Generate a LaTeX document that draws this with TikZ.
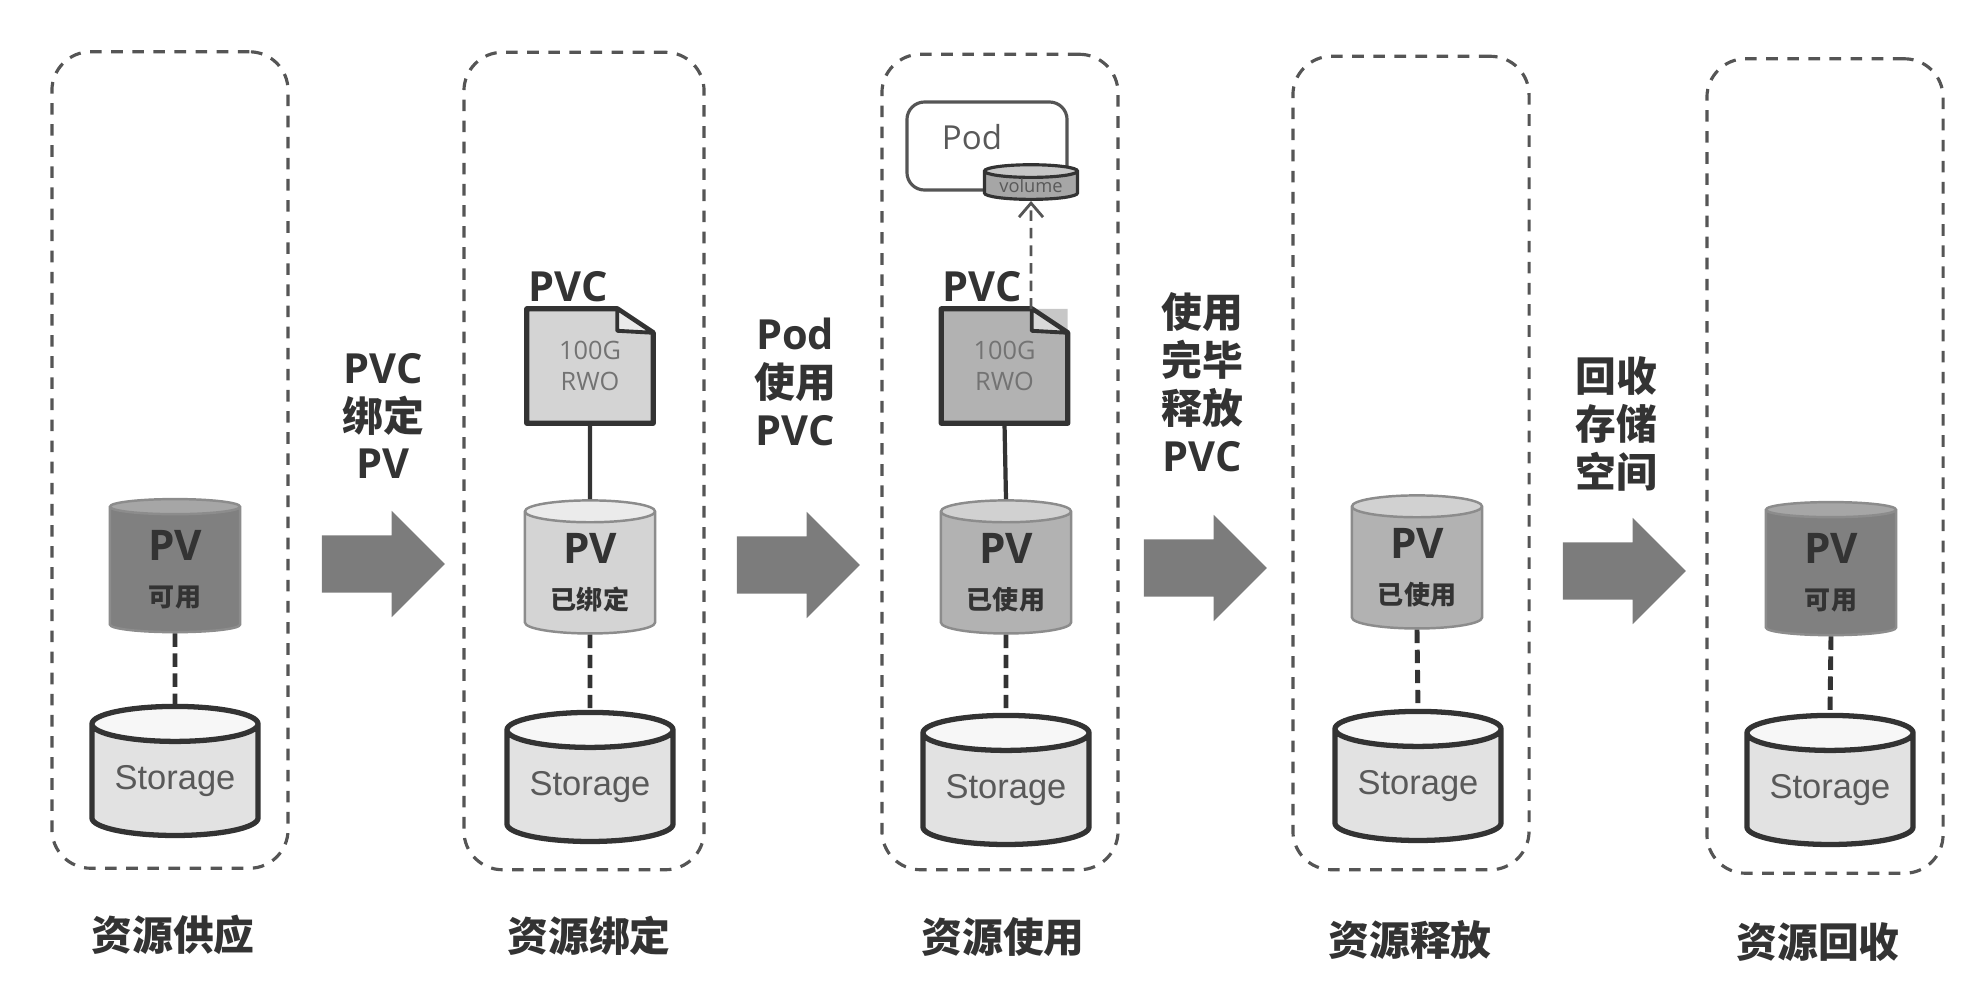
\documentclass[tikz,border=0pt]{standalone}
\usepackage{fontspec}
\usepackage{xcolor}
\setmainfont{Open Sans}
\newfontfamily\cjk{Noto Sans CJK SC}
\newfontfamily\arialish{Liberation Sans}
\usetikzlibrary{positioning,arrows.meta,shapes.geometric,shapes.arrows,backgrounds}
\definecolor{SKInk}{HTML}{333333}
\definecolor{SKEdge}{HTML}{555555}
\definecolor{SKArrow}{HTML}{7C7C7C}
\definecolor{SKFree}{HTML}{808080}
\definecolor{SKBound}{HTML}{D4D4D4}
\definecolor{SKUsed}{HTML}{B2B2B2}
\definecolor{SKStore}{HTML}{E2E2E2}
\tikzset{
  stagebox/.style={
    rectangle,
    rounded corners=11pt,
    draw=SKEdge,
    dash pattern=on 3.3pt off 2.7pt,
    line width=0.9pt,
    minimum width=2.36cm,
    inner sep=0pt
  },
  pvcyl/.style={
    cylinder,
    shape border rotate=90,
    shape aspect=0.28,
    cylinder uses custom fill,
    draw=black!45,
    line width=0.7pt,
    text=SKInk,
    align=center,
    inner sep=0pt,
    minimum width=1.30cm,
    minimum height=1.33cm,
    font=\fontsize{12}{13}\selectfont\bfseries
  },
  pvfree/.style={pvcyl,cylinder body fill=SKFree,cylinder end fill=black!35},
  pvbound/.style={pvcyl,cylinder body fill=SKBound,cylinder end fill=black!8},
  pvused/.style={pvcyl,cylinder body fill=SKUsed,cylinder end fill=black!18},
  storecyl/.style={
    cylinder,
    shape border rotate=90,
    shape aspect=0.29,
    cylinder uses custom fill,
    cylinder body fill=SKStore,
    cylinder end fill=black!3,
    draw=SKInk,
    line width=1.5pt,
    text=black!65,
    inner sep=0pt,
    minimum width=1.66cm,
    minimum height=1.29cm,
    font=\arialish\fontsize{9.8}{11}\selectfont
  },
  docsheet/.style={
    rectangle,
    inner sep=0pt,
    align=center,
    text=black!55,
    minimum width=1.25cm,
    minimum height=1.13cm,
    font=\fontsize{7.2}{8.8}\selectfont
  },
  docline/.style={draw=SKInk,line width=1.5pt,line join=round},
  stepname/.style={text=SKInk,font=\cjk\fontsize{11.6}{13}\selectfont\bfseries},
  movelabel/.style={text=SKInk,align=center,inner sep=0pt,font=\fontsize{11.8}{13.6}\selectfont\bfseries},
  pvclabel/.style={text=SKInk,inner sep=0pt,font=\fontsize{11.8}{13}\selectfont\bfseries},
  movearrow/.style={
    single arrow,
    fill=SKArrow,
    inner xsep=0pt,
    inner ysep=0.28cm,
    minimum height=1.23cm,
    single arrow head extend=0.245cm
  },
  solidlink/.style={draw=SKInk,line width=1.2pt},
  dashlink/.style={draw=SKInk,line width=1.4pt,dash pattern=on 3.8pt off 1.9pt},
  mountlink/.style={draw=SKEdge,line width=0.8pt,dash pattern=on 3pt off 2pt,-{Straight Barb[length=1.4mm,width=2.4mm]}},
}
\newcommand{\zh}[2]{{\cjk\fontsize{#1}{#1}\selectfont #2}}

\begin{document}
\begin{tikzpicture}[x=0.01cm,y=-0.01cm]
  \useasboundingbox (0,0) rectangle (1978,996);

  % stages
  \node[stagebox,minimum height=8.16cm] (panelA) at (170,460) {};
  \node[stagebox,minimum height=8.17cm,minimum width=2.40cm] (panelB) at (584,461) {};
  \node[stagebox,minimum height=8.15cm] (panelC) at (1000,462) {};
  \node[stagebox,minimum height=8.13cm] (panelD) at (1411,463) {};
  \node[stagebox,minimum height=8.14cm] (panelE) at (1825,466) {};

  \node[storecyl] (storeA) at (175,781) {Storage};
  \node[storecyl] (storeB) at (590,787) {Storage};
  \node[storecyl] (storeC) at (1006,790) {Storage};
  \node[storecyl] (storeD) at (1418,786) {Storage};
  \node[storecyl] (storeE) at (1830,790) {Storage};

  \node[pvfree] (pvA) at (175,570) {PV\\[0mm]\zh{7.4}{可用}};
  \node[pvbound] (pvB) at (590,573) {PV\\[0mm]\zh{7.4}{已绑定}};
  \node[pvused] (pvC) at (1006,573) {PV\\[0mm]\zh{7.4}{已使用}};
  \node[pvused] (pvD) at (1417,568) {PV\\[0mm]\zh{7.4}{已使用}};
  \node[pvfree] (pvE) at (1831,573) {PV\\[0mm]\zh{7.4}{可用}};

  \node[docsheet] (docB) at (590,366) {100G\\RWO};
  \node[docsheet] (docC) at (1004.5,366) {100G\\RWO};
  \node[pvclabel] (pvcB) at (568,287) {PVC};
  \node[pvclabel] (pvcC) at (982,287) {PVC};

  \begin{scope}[on background layer]
    \draw[docline,fill=SKBound] (docB.north west) -- ([xshift=-0.36cm]docB.north east)
      -- ([yshift=-0.24cm]docB.north east) -- (docB.south east) -- (docB.south west) -- cycle;
    \draw[docline,fill=black!8,line width=1.1pt] ([xshift=-0.36cm]docB.north east)
      -- ([xshift=-0.36cm,yshift=-0.22cm]docB.north east) -- ([yshift=-0.24cm]docB.north east) -- cycle;
    \fill[black!22] ([xshift=-0.36cm]docC.north east) -- (docC.north east) -- ([yshift=-0.24cm]docC.north east) -- cycle;
    \draw[docline,fill=SKUsed] (docC.north west) -- ([xshift=-0.36cm]docC.north east)
      -- ([yshift=-0.24cm]docC.north east) -- (docC.south east) -- (docC.south west) -- cycle;
    \draw[docline,fill=black!15,line width=1.1pt] ([xshift=-0.36cm]docC.north east)
      -- ([xshift=-0.36cm,yshift=-0.22cm]docC.north east) -- ([yshift=-0.24cm]docC.north east) -- cycle;
  \end{scope}

  % pod on the third stage
  \node[draw=SKEdge,line width=0.9pt,rounded corners=5pt,fill=white,minimum width=1.60cm,minimum height=0.88cm,
    inner sep=0pt] (podbox) at (987,146) {};
  \node[text=black!65,inner sep=0pt,font=\fontsize{9.4}{11}\selectfont] (podname) at (972,137) {Pod};
  \node[cylinder,shape border rotate=90,shape aspect=0.2,cylinder uses custom fill,cylinder body fill=black!35,
    cylinder end fill=black!22,draw=SKInk,line width=0.9pt,minimum width=0.93cm,minimum height=0.31cm,inner sep=0pt,
    text=black!65,font=\fontsize{5.2}{6}\selectfont] (volume) at (1031,186) {volume};

  % links
  \draw[dashlink] (pvA.south) -- (storeA.north);
  \draw[dashlink] (pvB.south) -- (storeB.north);
  \draw[dashlink] (pvC.south) -- (storeC.north);
  \draw[dashlink] (pvD.south) -- (storeD.north);
  \draw[dashlink] (pvE.south) -- (storeE.north);
  \draw[solidlink] (docB.south) -- (pvB.north);
  \draw[solidlink] (docC.south) -- (pvC.north);
  \draw[mountlink] ([xshift=0.265cm]docC.north) -- (volume.south);

  % moves
  \node[movearrow] (moveA) at (369,564) {};
  \node[movearrow] (moveB) at (784,565) {};
  \node[movearrow] (moveC) at (1191,568) {};
  \node[movearrow] (moveD) at (1610,571) {};
  \node[movelabel] (labelA) at (383,416) {PVC\\\zh{11.6}{绑定}\\PV};
  \node[movelabel] (labelB) at (795,382) {Pod\\\zh{11.6}{使用}\\PVC};
  \node[movelabel] (labelC) at (1202,382) {\zh{11.6}{使用}\\\zh{11.6}{完毕}\\\zh{11.6}{释放}\\PVC};
  \node[movelabel] (labelD) at (1616,424) {\zh{11.6}{回收}\\\zh{11.6}{存储}\\\zh{11.6}{空间}};

  \node[stepname] (nameA) at (173,935) {资源供应};
  \node[stepname] (nameB) at (589,936) {资源绑定};
  \node[stepname] (nameC) at (1003,937) {资源使用};
  \node[stepname] (nameD) at (1410,940) {资源释放};
  \node[stepname] (nameE) at (1818,942) {资源回收};
\end{tikzpicture}
\end{document}
